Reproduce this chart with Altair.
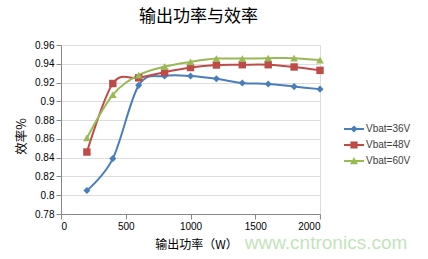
import altair as alt
import pandas as pd

power = [200, 400, 600, 800, 1000, 1200, 1400, 1600, 1800, 2000]
eff_36 = [0.805, 0.839, 0.917, 0.927, 0.927, 0.924, 0.9195, 0.9185, 0.9157, 0.913]
eff_48 = [0.846, 0.919, 0.925, 0.931, 0.936, 0.9387, 0.939, 0.939, 0.9366, 0.933]
eff_60 = [0.861, 0.907, 0.928, 0.937, 0.942, 0.9455, 0.9455, 0.946, 0.946, 0.944]
series = ["Vbat=36V", "Vbat=48V", "Vbat=60V"]
colors = ["#4a7ebb", "#be4b48", "#98b954"]
y_ticks = [0.78, 0.80, 0.82, 0.84, 0.86, 0.88, 0.90, 0.92, 0.94, 0.96]
x_ticks = [0, 500, 1000, 1500, 2000]

rows = []
for name, vals in zip(series, [eff_36, eff_48, eff_60]):
    for p, v in zip(power, vals):
        rows.append({"P": p, "eff": v, "series": name})
df = pd.DataFrame(rows)

FONT = "Liberation Sans"
CJK = "Noto Sans CJK SC"

x_scale = alt.Scale(domain=[0, 2000])
y_scale = alt.Scale(domain=[0.78, 0.96])

x_axis = alt.Axis(values=x_ticks, tickCount=10, format="d", title="输出功率（W）",
                  grid=False, labelOverlap=False,
                  titleX=135, titleY=30, titleBaseline="middle",
                  titleFont=CJK, titleFontSize=12, titleFontWeight="normal",
                  titleColor="#000000")
y_axis = alt.Axis(values=y_ticks, tickCount=12, format=".2~f", title="效率%",
                  labelOverlap=False,
                  titleX=-40, titleY=91, titleBaseline="middle",
                  titleFont=CJK, titleFontSize=12.5, titleFontWeight="normal",
                  titleColor="#000000")

def xe():
    return alt.X("P:Q", scale=x_scale, axis=x_axis)

def ye():
    return alt.Y("eff:Q", scale=y_scale, axis=y_axis)

base = alt.Chart(df)

lines = base.mark_line(interpolate="cardinal", tension=0, strokeWidth=2).encode(
    x=xe(), y=ye(),
    color=alt.Color("series:N", scale=alt.Scale(domain=series, range=colors), legend=None),
)

points = base.mark_point(filled=True, opacity=1).encode(
    x=xe(), y=ye(),
    color=alt.Color("series:N", scale=alt.Scale(domain=series, range=colors), legend=None),
    shape=alt.Shape("series:N", scale=alt.Scale(domain=series,
                    range=["diamond", "square", "triangle-up"]), legend=None),
    size=alt.Size("series:N", scale=alt.Scale(domain=series, range=[50, 60, 60]), legend=None),
)

line_bar = "M-1,-0.1L1,-0.1L1,0.1L-1,0.1Z"
legend_shapes = [
    line_bar + "M0,-0.36L0.36,0L0,0.36L-0.36,0Z",
    line_bar + "M-0.36,-0.36L0.36,-0.36L0.36,0.36L-0.36,0.36Z",
    line_bar + "M0,-0.4L0.4,0.32L-0.4,0.32Z",
]

legend_layer = base.transform_filter("datum.P < 0").mark_point(filled=True, opacity=1).encode(
    x=xe(), y=ye(),
    color=alt.Color("series:N", scale=alt.Scale(domain=series, range=colors),
                    legend=alt.Legend(title=None, orient="none", legendX=282, legendY=73,
                                      symbolSize=400, rowPadding=-1,
                                      labelFont=FONT, labelFontSize=10,
                                      labelColor="#404040", labelOffset=1)),
    shape=alt.Shape("series:N", scale=alt.Scale(domain=series, range=legend_shapes)),
)

watermark = alt.Chart(pd.DataFrame({"t": ["www.cntronics.com"]})).mark_text(
    font=FONT, fontSize=19, color="#c3e4ba", align="center", baseline="middle"
).encode(text="t:N", x=alt.value(265), y=alt.value(198))

chart = alt.layer(lines, points, legend_layer, watermark).resolve_scale(
    color="independent", shape="independent"
).properties(
    width=259, height=169,
    title=alt.TitleParams("输出功率与效率", font=CJK, fontSize=17, fontWeight="normal",
                          color="#000000", anchor="middle", dx=8, offset=14),
    autosize=alt.AutoSizeParams(type="none"),
    padding={"left": 61, "top": 45, "right": 108, "bottom": 45},
).configure_view(stroke=None).configure_axis(
    labelFont=FONT, labelFontSize=10, labelColor="#595959",
    domainColor="#bfbfbf", tickColor="#bfbfbf", tickSize=4, labelPadding=3,
    gridColor="#d9d9d9",
).configure(background="white")

chart.save("out.html", embed_options={"renderer": "svg", "actions": False})
